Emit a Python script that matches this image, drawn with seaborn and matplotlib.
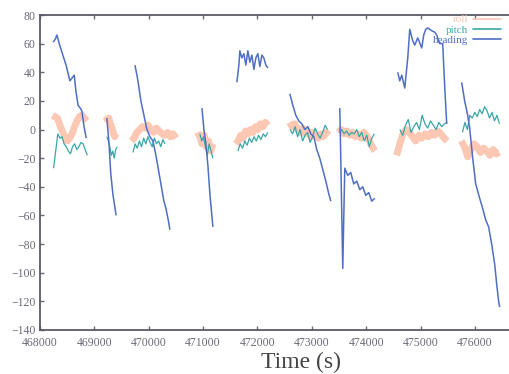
import numpy as np
import pandas as pd
import matplotlib
matplotlib.use("Agg")
import matplotlib.pyplot as plt
import seaborn as sns
from matplotlib.lines import Line2D

# time stamps (s) of the heading samples, segments split by nan
heading_t = [468240, 468280, 468310, 468370, 468420, 468480, 468550, 468590, 468630, 468660, 468700, 468740, 468770, 468810, 468850, np.nan,
             469230, 469270, 469300, 469340, 469380, 469400, np.nan,
             469746, 469783, 469801, 469856, 469911, 469967, 470022, 470077, 470132, 470187, 470242, 470279, 470316, 470353, 470390, np.nan,
             470978, 471015, 471051, 471088, 471125, 471161, 471180, np.nan,
             471621, 471658, 471676, 471713, 471750, 471786, 471823, 471860, 471897, 471934, 471970, 472007, 472044, 472081, 472117, 472154, 472191, np.nan,
             472595, 472650, 472705, 472760, 472816, 472871, 472926, 472981, 473036, 473091, 473146, 473202, 473257, 473312, 473349, np.nan,
             473514, 473532, 473551, 473569, 473588, 473606, 473661, 473716, 473771, 473826, 473882, 473937, 473992, 474047, 474102, 474157, np.nan,
             474580, 474617, 474654, 474709, 474764, 474801, 474856, 474893, 474948, 475021, 475058, 475095, 475131, 475205, 475260, 475297, 475352, 475407, 475444, 475481, np.nan,
             475756, 475811, 475866, 475903, 475959, 476014, 476050, 476087, 476142, 476197, 476252, 476308, 476363, 476400, 476436, 476455]
heading_v = [61, 63, 66, 58, 52, 45, 34, 36, 38, 27, 17, 15, 13, 2, -6, np.nan,
             8, -10, -30, -45, -55, -60, np.nan,
             45, 38, 34, 20, 10, 0, -5, -8, -18, -30, -42, -50, -55, -62, -70, np.nan,
             15, 0, -10, -25, -45, -60, -68, np.nan,
             33, 45, 55, 50, 53, 45, 55, 47, 52, 42, 50, 53, 44, 52, 50, 45, 43, np.nan,
             25, 17, 10, 6, 4, 0, 2, -3, -5, -14, -20, -28, -36, -45, -50, np.nan,
             15, -20, -60, -97, -60, -27, -32, -30, -38, -36, -42, -40, -46, -44, -50, -48, np.nan,
             40, 34, 38, 29, 50, 70, 62, 59, 64, 57, 66, 70, 71, 69, 68, 66, 60, 60, 30, 4, np.nan,
             33, 20, 10, 1, -20, -38, -43, -48, -55, -63, -68, -80, -94, -108, -120, -124]

# pitch and roll: (start, end) of each recording and its evenly spaced samples
seg_start = [468250, 469230, 469710, 470940, 471640, 472600, 473500, 474620, 475770]
seg_end = [468870, 469420, 470300, 471180, 472190, 473290, 474150, 475490, 476450]
pitch_v = [
    [-27, -15, -3, -6, -5, -10, -12, -15, -17, -12, -10, -14, -12, -9, -10, -14, -18],
    [-5, -8, -12, -18, -15, -20, -14, -12],
    [-16, -10, -13, -8, -12, -6, -10, -5, -9, -12, -6, -10, -8, -12, -7, -10],
    [-3, -8, -5, -12, -18, -10, -15, -20],
    [-15, -10, -13, -8, -11, -6, -9, -5, -8, -4, -7, -3, -5, -2],
    [0, -3, 2, -5, 0, -8, -4, -2, -9, -5, 1, -3, -6, -2, 3, 0],
    [-2, 0, -3, -1, -4, -2, -3, 0, -5, -2, -8, -4, -12, -6, -3],
    [0, -4, 3, 7, -2, 2, 5, 0, 10, 4, 1, 6, 3, 0, 5, 2, 4, 5],
    [-2, 5, 0, 10, 8, 12, 9, 14, 11, 16, 13, 8, 12, 6, 10, 4],
]
roll_start = [468230, 469210, 469680, 470900, 471600, 472590, 473490, 474560, 475750]
roll_end = [468860, 469400, 470500, 471180, 472190, 473310, 474160, 475490, 476450]
roll_v = [
    [10, 9, 8, 3, -1, -5, -8, -6, -3, 2, 6, 9, 10, 8, 6],
    [9, 7, 8, 4, 2, -2, -5, -3],
    [-8, -6, -2, 0, 2, 1, 3, 0, -2, 1, -1, -3, -4, -2, -5, -3, -6],
    [-2, -5, -10, -4, -12, -8, -15, -10],
    [-10, -8, -4, -6, -1, -3, 0, -2, 2, 0, 4, 2, 5, 3],
    [5, 2, 4, 0, -2, 1, -3, -1, -5, -2, -4, -6, -3, -5, -2, -4],
    [-2, 0, -3, -1, -4, -2, -5, -3, -6, -2, -4, -8, -12, -15],
    [-18, -10, -3, 0, -2, -5, -8, -4, -6, -3, -5, -2, -4, -1, -3, -6, -8],
    [-8, -12, -19, -14, -10, -12, -16, -13, -15, -18, -14, -17, -16],
]

labels = ["roll", "pitch", "heading"]
colors = {"roll": "#fcc7b3", "pitch": "#3aa6a8", "heading": "#4f6fc4"}


def segments_frame(starts, ends, values):
    rows = []
    for k, (a, b, vals) in enumerate(zip(starts, ends, values)):
        for t, v in zip(np.linspace(a, b, len(vals)), vals):
            rows.append((t, v, k))
    return pd.DataFrame(rows, columns=["t", "v", "seg"])


def nan_split_frame(ts, vs):
    df = pd.DataFrame({"t": ts, "v": vs})
    df["seg"] = df["t"].isna().cumsum()
    return df.dropna()


roll_df = segments_frame(roll_start, roll_end, roll_v)
pitch_df = segments_frame(seg_start, seg_end, pitch_v)
heading_df = nan_split_frame(heading_t, heading_v)

sns.set_style("ticks")
plt.rcParams["font.family"] = ["Liberation Serif", "DejaVu Serif"]

fig = plt.figure(figsize=(5.09, 3.74), dpi=100)
ax = fig.add_axes([40 / 509, 44 / 374, 473 / 509, 315 / 374])

sns.lineplot(data=roll_df, x="t", y="v", units="seg", estimator=None, sort=False,
             color=colors["roll"], linewidth=5, marker="", ax=ax)
sns.lineplot(data=pitch_df, x="t", y="v", units="seg", estimator=None, sort=False,
             color=colors["pitch"], linewidth=0.9, marker="", ax=ax)
sns.lineplot(data=heading_df, x="t", y="v", units="seg", estimator=None, sort=False,
             color=colors["heading"], linewidth=1.1, marker="", ax=ax)
for ln in ax.lines:
    ln.set_solid_joinstyle("round")
    ln.set_solid_capstyle("butt")

ax.set_xlim(468000, 476700)
ax.set_ylim(-140, 80)
ax.set_xticks(np.arange(468000, 476001, 1000))
ax.set_yticks(np.arange(-140, 81, 20))
ax.tick_params(direction="in", length=3, width=1, labelsize=8.5, colors="#6a6a78",
               top=True, right=False)
ax.tick_params(axis="x", pad=5)
ax.tick_params(axis="y", pad=3)
for s in ax.spines.values():
    s.set_color("#5a5a66")
    s.set_linewidth(1.3)

ax.set_ylabel("")
ax.set_xlabel("Time (s)", fontsize=17, color="#444444")
ax.xaxis.set_label_coords(0.552, -0.07)

handles = [Line2D([], [], color=colors[k], lw=1.2) for k in labels]
leg = ax.legend(handles, labels, loc="upper right", frameon=False, markerfirst=False,
                fontsize=8, handlelength=2.6, labelspacing=0.05, handletextpad=0.4,
                borderaxespad=0.0, bbox_to_anchor=(0.985, 1.015))
for txt, k in zip(leg.get_texts(), labels):
    txt.set_color(colors[k])

fig.savefig("out.png", dpi=100)
